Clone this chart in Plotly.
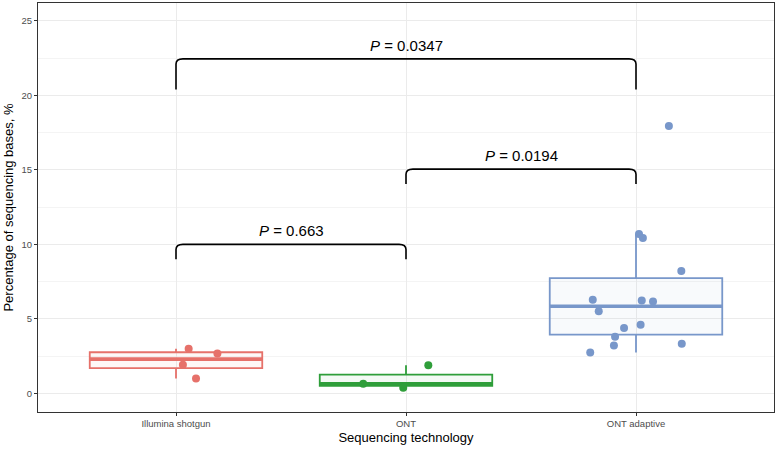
import numpy as np
import plotly.graph_objects as go

groups = ["Illumina shotgun", "ONT", "ONT adaptive"]
colors = ["#E6716A", "#2F9E3A", "#7897CA"]
fills = ["rgba(230,113,106,0.05)", "rgba(47,158,58,0.05)", "rgba(120,151,202,0.05)"]

# values (%)
illumina = [3.0, 2.68, 1.92, 1.0]
ont = [1.88, 0.64, 0.38]
ont_adaptive = [17.94, 10.70, 10.43, 8.22, 6.28, 6.23, 6.17, 5.52, 4.38, 4.60, 3.80, 3.22, 3.33, 2.75]

# horizontal jitter of each point (category units)
illumina_jit = [0.055, 0.18, 0.03, 0.087]
ont_jit = [0.097, -0.186, -0.012]
ont_adaptive_jit = [0.143, 0.013, 0.030, 0.197, -0.188, 0.025, 0.074, -0.162, -0.052, 0.020, -0.091, -0.096, 0.199, -0.199]

# significance brackets: (from, to, low end, top, label)
brackets = [
    (1, 3, 20.4, 22.45, "0.0347"),
    (2, 3, 14.05, 15.05, "0.0194"),
    (1, 2, 9.0, 10.0, "0.663"),
]

data = [illumina, ont, ont_adaptive]
jit = [illumina_jit, ont_jit, ont_adaptive_jit]

fig = go.Figure()
half = 0.375
for i, (vals, offs) in enumerate(zip(data, jit)):
    pos = i + 1
    v = np.array(vals)
    q1, med, q3 = np.percentile(v, [25, 50, 75])
    iqr = q3 - q1
    lo = v[v >= q1 - 1.5 * iqr].min()
    hi = v[v <= q3 + 1.5 * iqr].max()
    fig.add_trace(go.Box(
        x=[pos], q1=[q1], median=[med], q3=[q3], lowerfence=[lo], upperfence=[hi],
        width=0.75, whiskerwidth=0, boxpoints=False,
        line=dict(color=colors[i], width=1.8), fillcolor=fills[i],
        showlegend=False, hoverinfo="skip",
    ))
    # thicker median line like ggplot
    fig.add_trace(go.Scatter(
        x=[pos - half, pos + half], y=[med, med], mode="lines",
        line=dict(color=colors[i], width=3.6), showlegend=False, hoverinfo="skip",
    ))
    fig.add_trace(go.Scatter(
        x=[pos + o for o in offs], y=vals, mode="markers",
        marker=dict(color=colors[i], size=8), showlegend=False,
    ))

r = 0.03  # corner rounding in x units
for a, b, ylo, ytop, lab in brackets:
    ry = 0.35
    path = (f"M {a},{ylo} L {a},{ytop - ry} Q {a},{ytop} {a + r},{ytop} "
            f"L {b - r},{ytop} Q {b},{ytop} {b},{ytop - ry} L {b},{ylo}")
    fig.add_shape(type="path", path=path, xref="x", yref="y",
                  line=dict(color="black", width=1.6))
    fig.add_annotation(x=(a + b) / 2, y=ytop, text=f"<i>P</i> = {lab}",
                       showarrow=False, yanchor="bottom", yshift=3,
                       font=dict(size=15, color="black"))

axis_common = dict(
    showline=True, linecolor="#333333", linewidth=1, mirror=True,
    ticks="outside", tickcolor="#333333", ticklen=3,
    tickfont=dict(size=9.5, color="#4D4D4D"),
    gridcolor="#EBEBEB", gridwidth=1, zeroline=False, automargin=False,
)

fig.update_layout(
    width=777, height=449,
    margin=dict(l=38, r=3, t=3, b=37),
    plot_bgcolor="white", paper_bgcolor="white",
    font=dict(family="Liberation Sans, Arial, sans-serif"),
    xaxis=dict(
        range=[0.4, 3.6], tickvals=[1, 2, 3], ticktext=groups,
        title=dict(text="Sequencing technology", font=dict(size=13, color="black"), standoff=4),
        **axis_common,
    ),
    yaxis=dict(
        range=[-1.25, 26.2], tickvals=[0, 5, 10, 15, 20, 25],
        minor=dict(tickvals=[2.5, 7.5, 12.5, 17.5, 22.5], showgrid=True, gridcolor="#F4F4F4", ticks=""),
        title=dict(text="Percentage of sequencing bases, %", font=dict(size=13, color="black"), standoff=4),
        **axis_common,
    ),
)

fig.write_html("out.html", config={"displayModeBar": False},
               post_script="document.body.style.margin='0px';")
